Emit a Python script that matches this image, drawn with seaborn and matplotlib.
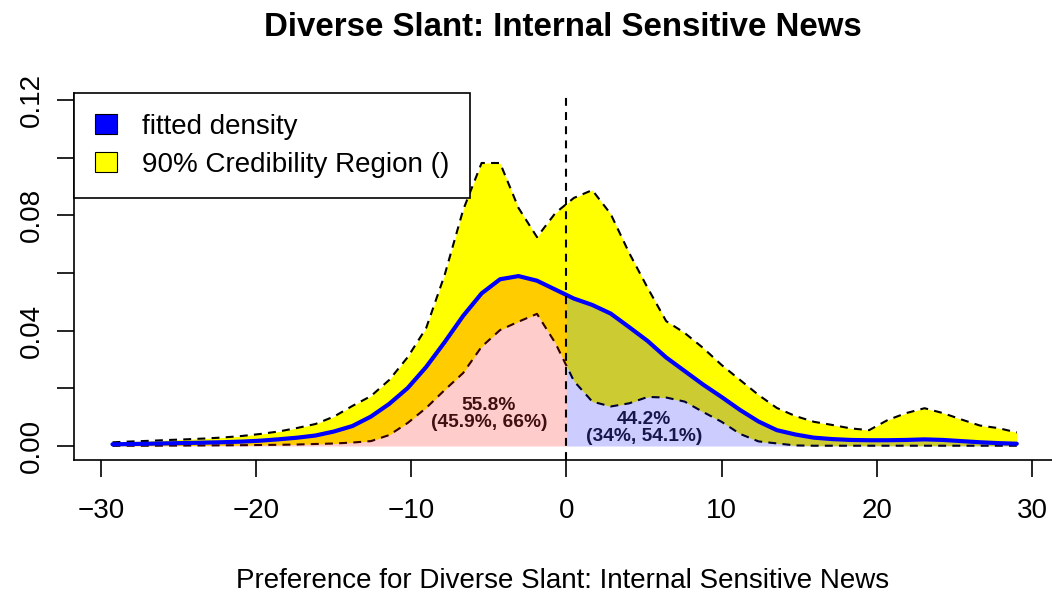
import matplotlib
matplotlib.use("Agg")
import matplotlib.pyplot as plt
import numpy as np
import seaborn as sns
from matplotlib.patches import Patch

sns.set_theme(style="white")
plt.rcParams['font.family'] = ['Liberation Sans', 'DejaVu Sans']
plt.rcParams['text.color'] = 'black'

# grid of slant values
slant = [-29.25, -28.06, -26.87, -25.68, -24.49, -23.31, -22.12, -20.93, -19.74, -18.55,
         -17.36, -16.17, -14.98, -13.79, -12.60, -11.42, -10.23, -9.04, -7.85, -6.66,
         -5.47, -4.28, -3.09, -1.90, -0.71, 0.48, 1.66, 2.85, 4.04, 5.23,
         6.42, 7.61, 8.80, 9.99, 11.18, 12.37, 13.55, 14.74, 15.93, 17.12,
         18.31, 19.50, 20.69, 21.88, 23.07, 24.26, 25.44, 26.63, 27.82, 29.01]

# fitted density
density = [0.00059, 0.00069, 0.00080, 0.00094, 0.00104, 0.00118, 0.00132, 0.00153, 0.00184, 0.00232,
           0.00288, 0.00364, 0.00503, 0.00693, 0.0102, 0.0146, 0.0201, 0.0274, 0.0360, 0.0451,
           0.0529, 0.0578, 0.0589, 0.0573, 0.0542, 0.0511, 0.0489, 0.0459, 0.0412, 0.0364,
           0.0307, 0.0260, 0.0213, 0.0170, 0.0125, 0.0085, 0.0055, 0.0040, 0.0029, 0.0024,
           0.0021, 0.0020, 0.0020, 0.0021, 0.0023, 0.0021, 0.0017, 0.0013, 0.0010, 0.0008]

# 90% credibility region bounds
upper = [0.00128, 0.00156, 0.0018, 0.00208, 0.00232, 0.0026, 0.00295, 0.00347, 0.00416, 0.00503,
         0.00624, 0.00763, 0.0102, 0.0139, 0.0173, 0.0229, 0.0308, 0.0409, 0.0593, 0.0818,
         0.0981, 0.0981, 0.0825, 0.0724, 0.0808, 0.0860, 0.0887, 0.0804, 0.0669, 0.0548,
         0.0433, 0.0392, 0.0340, 0.0281, 0.0229, 0.0177, 0.0132, 0.0104, 0.0084, 0.0073,
         0.0061, 0.0055, 0.0090, 0.0114, 0.0131, 0.0114, 0.0092, 0.0071, 0.0062, 0.0047]
lower = [0.00007, 0.0001, 0.0001, 0.00014, 0.00017, 0.0002, 0.00024, 0.00028, 0.00035, 0.00042,
         0.00052, 0.0007, 0.00087, 0.0012, 0.0017, 0.0038, 0.0080, 0.0132, 0.0194, 0.0253,
         0.0344, 0.0402, 0.0431, 0.0458, 0.0356, 0.0225, 0.0154, 0.0137, 0.0148, 0.0170,
         0.0168, 0.0154, 0.0118, 0.0084, 0.0042, 0.0016, 0.0009, 0.0002, 0.0001, 0.0001,
         0.0001, 0.0001, 0.0001, 0.0001, 0.0001, 0.0001, 0.0001, 0.0001, 0.0001, 0.0001]

# share of mass left / right of zero, with intervals
share_labels = ["55.8%\n(45.9%, 66%)", "44.2%\n(34%, 54.1%)"]
share_x = [-5.0, 5.0]
share_y = [0.0111, 0.0062]

x = np.array(slant)
d = np.array(density)
dash = (0, (3.8, 3.0))

fig = plt.figure(figsize=(10.52, 5.96), dpi=100)
ax = fig.add_axes([74 / 1052, 136 / 596, 978 / 1052, 367 / 596])

# credibility band
ax.fill_between(x, lower, upper, color='#FFFF00', lw=0, zorder=1)
sns.lineplot(x=x, y=upper, color='black', lw=1.5, linestyle=dash, ax=ax, zorder=2)
sns.lineplot(x=x, y=lower, color='black', lw=1.5, linestyle=dash, ax=ax, zorder=2)

# split mass at zero
xs = np.sort(np.append(x, 0.0))
ds = np.interp(xs, x, d)
ax.fill_between(xs, 0, ds, where=xs <= 0, color='red', alpha=0.2, lw=0, zorder=3)
ax.fill_between(xs, 0, ds, where=xs >= 0, color='blue', alpha=0.2, lw=0, zorder=3)

sns.lineplot(x=x, y=d, color='#0000FF', lw=3, ax=ax, zorder=4)
ax.axvline(0, color='black', lw=1.5, linestyle=dash, zorder=5)

for lab, tx, ty, c in zip(share_labels, share_x, share_y, ['#3F1010', '#16164A']):
    ax.text(tx, ty, lab, ha='center', va='center', fontsize=13.8, fontweight='bold',
            color=c, linespacing=1.0, zorder=6)

ax.set_xlim(-31.73, 31.28)
ax.set_ylim(-0.00485, 0.12236)
ax.set_xticks([-30, -20, -10, 0, 10, 20, 30])
ax.set_xticklabels(['\u221230', '\u221220', '\u221210', '0', '10', '20', '30'])
yt = [0, 0.02, 0.04, 0.06, 0.08, 0.10, 0.12]
ax.set_yticks(yt)
ax.set_yticklabels(['0.00', '', '0.04', '', '0.08', '', '0.12'], rotation=90, va='center')

for s in ['top', 'right']:
    ax.spines[s].set_visible(False)
for s in ['left', 'bottom']:
    ax.spines[s].set_color('black')
    ax.spines[s].set_linewidth(1.2)
ax.tick_params(axis='both', direction='out', length=12.2, width=1.2, color='black',
               labelsize=20, labelcolor='black', bottom=True, left=True)
ax.tick_params(axis='x', pad=15)
ax.tick_params(axis='y', pad=8.7)

ax.set_xlabel("Preference for Diverse Slant: Internal Sensitive News", fontsize=20,
              color='black', labelpad=32)
ax.set_ylabel("")
ax.set_title("Diverse Slant: Internal Sensitive News", fontsize=23.8, fontweight='bold',
             color='black', pad=41)

handles = [Patch(facecolor='#0000FF', edgecolor='black', lw=0.8),
           Patch(facecolor='#FFFF00', edgecolor='black', lw=0.8)]
leg = ax.legend(handles, ['fitted density', '90% Credibility Region ()'], loc='upper left',
                bbox_to_anchor=(0, 1), borderaxespad=0, fontsize=20, frameon=True,
                fancybox=False, framealpha=1, edgecolor='black', handlelength=0.78,
                handleheight=0.75, handletextpad=0.9, borderpad=0.75, labelspacing=0.42)
leg.get_frame().set_linewidth(1.2)
for t in leg.get_texts():
    t.set_color('black')
leg.set_zorder(10)

fig.savefig("out.png", dpi=100)
